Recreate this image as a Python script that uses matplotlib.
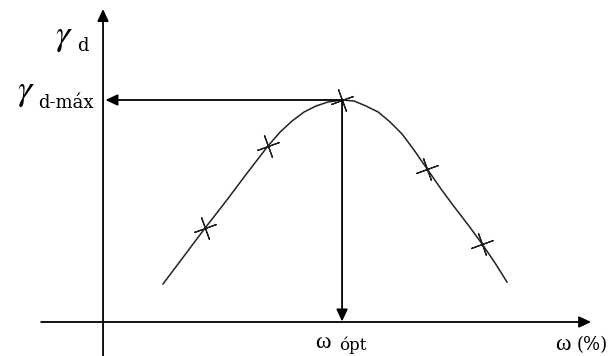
import numpy as np
import matplotlib
matplotlib.use("Agg")
import matplotlib.pyplot as plt

plt.rcParams['mathtext.fontset'] = 'stix'

# compaction curve (schematic units)
w_curve = [2.51, 3.39, 4.27, 5.15, 6.03, 6.90, 7.41, 7.91, 8.41, 8.91, 9.41, 10.0,
           10.50, 11.00, 11.51, 12.01, 12.51, 13.01, 13.56, 14.14, 14.73, 15.31,
           15.86, 16.40, 16.90]
g_curve = [3.8, 6.6, 9.4, 12.1, 14.9, 17.6, 19.0, 20.1, 21.0, 21.6, 22.0, 22.2,
           22.1, 21.6, 21.0, 20.0, 18.8, 17.2, 15.3, 13.3, 11.4, 9.6,
           7.8, 5.9, 4.0]

# test points
w_pts = [4.27, 6.90, 10.0, 13.56, 15.86]
g_pts = [9.4, 17.6, 22.2, 15.3, 7.8]

w_opt = 10.0
g_max = 22.2

fig = plt.figure(figsize=(6.16, 3.56), dpi=100)
ax = fig.add_axes([0, 0, 1, 1])
ax.set_xlim(-4.31, 21.46)
ax.set_ylim(-3.4, 32.2)
ax.axis('off')

arrow = dict(arrowstyle='-|>,head_length=0.6,head_width=0.28', color='black',
             lw=1.3, mutation_scale=12, shrinkA=0, shrinkB=0)

# axes
ax.annotate('', xy=(20.42, 0), xytext=(-2.59, 0), arrowprops=arrow)
ax.annotate('', xy=(0, 31.3), xytext=(0, -3.4), arrowprops=arrow)

# max / optimum arrows
ax.annotate('', xy=(0.1, g_max), xytext=(w_opt, g_max), arrowprops=arrow)
ax.annotate('', xy=(w_opt, 0.05), xytext=(w_opt, g_max), arrowprops=arrow)

ax.plot(w_curve, g_curve, color='#222222', lw=1.1)
ax.plot(w_pts, g_pts, ls='none', marker=(4, 2, 20), ms=17, mew=0.9,
        color='#222222')

serif = 'Liberation Serif'
# labels
ax.text(-1.63, 28.5, r'$\gamma$', fontsize=26, ha='center', va='center')
ax.text(-0.86, 27.6, 'd', fontsize=13, family='DejaVu Serif',
        ha='center', va='center')
ax.text(-3.22, 23.0, r'$\gamma$', fontsize=26, ha='center', va='center')
ax.text(-1.55, 21.9, 'd-máx', fontsize=13, family='DejaVu Serif',
        ha='center', va='center')
ax.text(9.2, -2.1, 'ω', fontsize=17, family=serif,
        ha='center', va='center')
ax.text(10.46, -2.35, 'ópt', fontsize=12, family='DejaVu Serif',
        ha='center', va='center')
ax.text(19.25, -2.2, 'ω', fontsize=17, family=serif,
        ha='center', va='center')
ax.text(20.48, -2.3, '(%)', fontsize=13, family='DejaVu Serif',
        ha='center', va='center')

fig.savefig('out.png', dpi=100)
